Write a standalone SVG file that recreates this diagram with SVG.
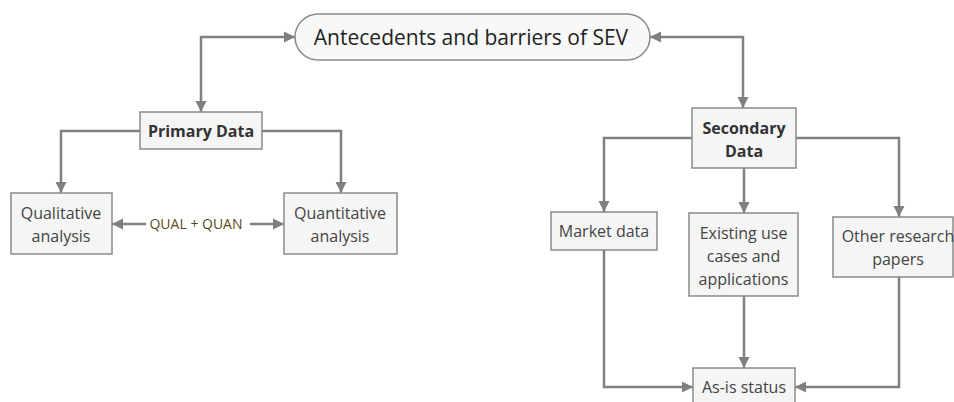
<svg xmlns="http://www.w3.org/2000/svg" width="954" height="402" viewBox="0 0 954 402">
<style>
.box{fill:#f5f5f5;stroke:#8a8a8a;stroke-width:1.5}
.t{font-family:"Open Sans","Noto Sans",sans-serif;font-size:16px;fill:#444;text-anchor:middle}
.b{font-weight:bold;fill:#333}
.c{fill:none;stroke:#808080;stroke-width:2.5}
.lab{font-family:"Open Sans","Noto Sans",sans-serif;font-size:14px;fill:#5a4a22;text-anchor:middle}
</style>
<defs>
<marker id="ah" markerUnits="userSpaceOnUse" markerWidth="12" markerHeight="12" viewBox="0 0 12 12" refX="11" refY="6" orient="auto-start-reverse">
<path d="M0,0.5 L11,6 L0,11.5 Z" fill="#808080"/>
</marker>
</defs>
<g id="connectors">
<path class="c" d="M201,112 V37 H295" marker-start="url(#ah)" marker-end="url(#ah)"/>
<path class="c" d="M743,108 V37 H650" marker-start="url(#ah)" marker-end="url(#ah)"/>
<path class="c" d="M140,131 H61 V193" marker-end="url(#ah)"/>
<path class="c" d="M262,131 H341 V193" marker-end="url(#ah)"/>
<path class="c" d="M146,224 H112" marker-end="url(#ah)"/>
<path class="c" d="M250,224 H284" marker-end="url(#ah)"/>
<path class="c" d="M692,138 H604 V212" marker-end="url(#ah)"/>
<path class="c" d="M744,168 V213" marker-end="url(#ah)"/>
<path class="c" d="M796,138 H899 V217" marker-end="url(#ah)"/>
<path class="c" d="M604,250 V387 H693" marker-end="url(#ah)"/>
<path class="c" d="M744,296 V368" marker-end="url(#ah)"/>
<path class="c" d="M899,277 V387 H795" marker-end="url(#ah)"/>
<text class="lab" x="196" y="229">QUAL + QUAN</text>
</g>
<g id="root">
<rect x="295" y="14" width="355" height="46" rx="23" fill="#f8f8f8" stroke="#8a8a8a" stroke-width="1.5"/>
<text class="t" x="471" y="44.500" style="font-size:21px;fill:#222">Antecedents and barriers of SEV</text>
</g>
<g id="primary">
<rect class="box" x="140" y="112" width="122" height="37"/>
<text class="t b" x="201" y="136.500">Primary Data</text>
</g>
<g id="qualitative">
<rect class="box" x="11" y="193" width="101" height="61"/>
<text class="t" x="61" y="219">Qualitative</text>
<text class="t" x="61" y="242">analysis</text>
</g>
<g id="quantitative">
<rect class="box" x="284" y="193" width="113" height="61"/>
<text class="t" x="340" y="219">Quantitative</text>
<text class="t" x="340" y="242">analysis</text>
</g>
<g id="secondary">
<rect class="box" x="692" y="108" width="104" height="60"/>
<text class="t b" x="744" y="134">Secondary</text>
<text class="t b" x="744" y="157">Data</text>
</g>
<g id="market">
<rect class="box" x="551" y="212" width="106" height="38"/>
<text class="t" x="604" y="237">Market data</text>
</g>
<g id="existing">
<rect class="box" x="689" y="213" width="109" height="83"/>
<text class="t" x="743.500" y="239">Existing use</text>
<text class="t" x="743.500" y="262">cases and</text>
<text class="t" x="743.500" y="285">applications</text>
</g>
<g id="other">
<rect class="box" x="833" y="217" width="120" height="60"/>
<text class="t" x="898" y="242">Other research</text>
<text class="t" x="898" y="265">papers</text>
</g>
<g id="asis">
<rect class="box" x="693" y="368" width="102" height="40"/>
<text class="t" x="744" y="393">As-is status</text>
</g>
</svg>
